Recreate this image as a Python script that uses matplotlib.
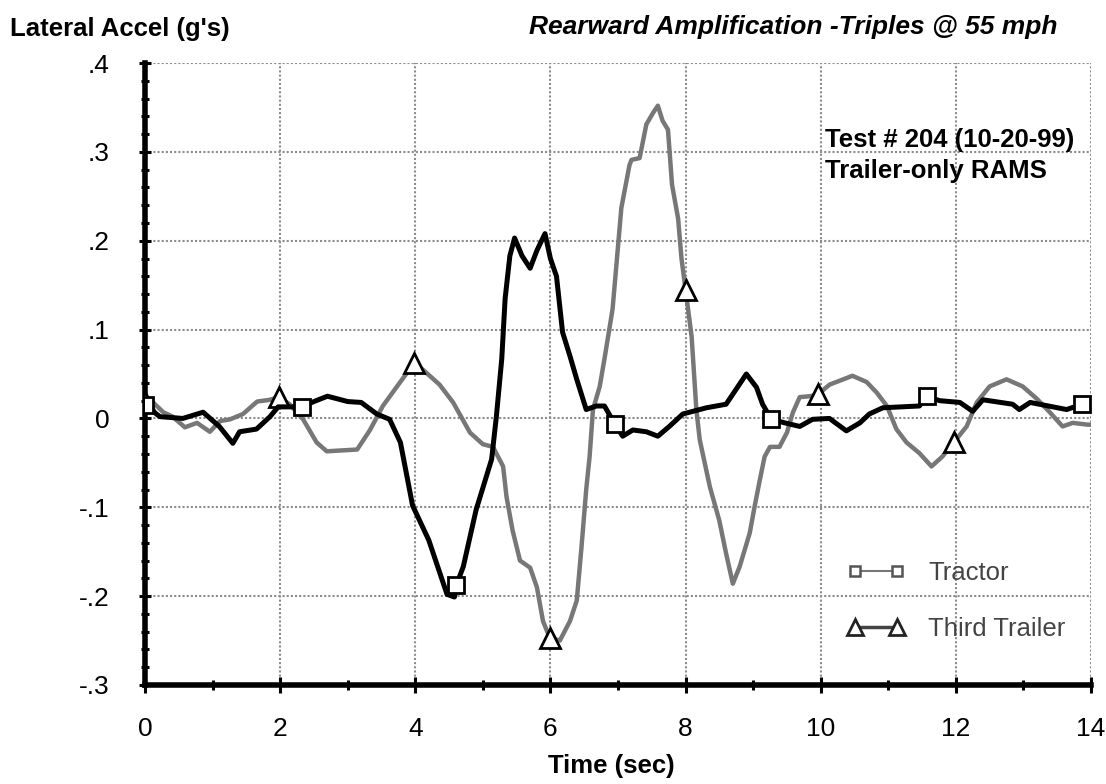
import numpy as np
import matplotlib
matplotlib.use("Agg")
import matplotlib.pyplot as plt
from matplotlib.lines import Line2D
from matplotlib.legend_handler import HandlerLine2D
from matplotlib.ticker import MultipleLocator, FixedLocator

plt.rcParams['font.family'] = ['Liberation Sans', 'DejaVu Sans']

# tractor lateral accel (g's) vs time (sec)
tractor_t = [0, 0.22, 0.56, 0.86, 1.1, 1.3, 1.4, 1.65, 1.85, 1.97, 2.32, 2.5, 2.7,
             3.0, 3.2, 3.43, 3.62, 3.78, 3.96, 4.2, 4.47, 4.58, 4.61, 4.71, 4.9,
             5.13, 5.2, 5.28, 5.33, 5.4, 5.47, 5.58, 5.7, 5.8, 5.92, 6.0, 6.09,
             6.18, 6.29, 6.39, 6.53, 6.68, 6.8, 6.95, 7.07, 7.22, 7.42, 7.59,
             7.76, 7.96, 8.31, 8.6, 8.75, 8.9, 9.05, 9.14, 9.27, 9.47, 9.69,
             9.88, 10.13, 10.38, 10.58, 10.72, 10.92, 11.46, 11.57, 11.76, 12.06,
             12.25, 12.4, 12.84, 12.94, 13.1, 13.64, 13.87, 14.0]
tractor_g = [0.015, 0.002, 0.0, 0.007, -0.009, -0.028, -0.015, -0.012, 0.002, 0.013,
             0.013, 0.019, 0.025, 0.019, 0.018, 0.005, -0.001, -0.027, -0.098,
             -0.137, -0.198, -0.201, -0.187, -0.167, -0.103, -0.046, 0.002, 0.067,
             0.135, 0.183, 0.203, 0.183, 0.169, 0.189, 0.208, 0.18, 0.16, 0.097,
             0.07, 0.044, 0.01, 0.014, 0.014, -0.006, -0.02, -0.013, -0.015, -0.02,
             -0.009, 0.005, 0.012, 0.016, 0.033, 0.05, 0.035, 0.016, -0.001,
             -0.005, -0.009, -0.001, 0.0, -0.014, -0.005, 0.005, 0.012, 0.014,
             0.025, 0.02, 0.018, 0.008, 0.021, 0.016, 0.01, 0.018, 0.01, 0.016,
             0.016]

# third trailer
trailer_t = [0, 0.12, 0.27, 0.41, 0.59, 0.77, 0.96, 1.11, 1.26, 1.45, 1.66, 1.85,
             1.98, 2.14, 2.34, 2.54, 2.69, 3.14, 3.33, 3.52, 3.73, 3.98, 4.11,
             4.36, 4.56, 4.81, 5.0, 5.15, 5.3, 5.35, 5.44, 5.55, 5.7, 5.8, 5.89,
             5.99, 6.14, 6.29, 6.39, 6.46, 6.53, 6.58, 6.63, 6.73, 6.8, 6.92,
             7.05, 7.17, 7.2, 7.32, 7.42, 7.52, 7.59, 7.66, 7.74, 7.8, 7.89, 7.94,
             8.0, 8.09, 8.16, 8.21, 8.36, 8.5, 8.6, 8.7, 8.8, 8.95, 9.02, 9.1,
             9.17, 9.25, 9.39, 9.5, 9.59, 9.69, 9.84, 9.96, 10.13, 10.47, 10.68,
             10.83, 10.98, 11.12, 11.27, 11.46, 11.64, 11.8, 11.98, 12.16, 12.31,
             12.5, 12.75, 12.99, 13.2, 13.39, 13.58, 13.73, 13.95, 14.0]
trailer_g = [0.019, 0.018, 0.007, 0.002, -0.01, -0.005, -0.015, -0.003, -0.001,
             0.005, 0.019, 0.021, 0.024, 0.016, -0.001, -0.027, -0.037, -0.035,
             -0.013, 0.014, 0.036, 0.062, 0.055, 0.038, 0.018, -0.016, -0.029,
             -0.032, -0.054, -0.088, -0.126, -0.16, -0.168, -0.19, -0.228, -0.247,
             -0.25, -0.228, -0.205, -0.145, -0.08, -0.043, 0.01, 0.036, 0.067,
             0.123, 0.237, 0.285, 0.291, 0.293, 0.331, 0.344, 0.352, 0.335, 0.325,
             0.263, 0.225, 0.18, 0.145, 0.092, 0.01, -0.024, -0.077, -0.115,
             -0.152, -0.186, -0.167, -0.129, -0.1, -0.069, -0.043, -0.032, -0.032,
             -0.016, 0.007, 0.024, 0.025, 0.027, 0.038, 0.048, 0.041, 0.029, 0.014,
             -0.012, -0.027, -0.039, -0.054, -0.043, -0.026, -0.009, 0.018, 0.036,
             0.044, 0.036, 0.022, 0.007, -0.009, -0.005, -0.007, -0.007]

tractor_marks = [0, 2.32, 4.61, 6.95, 9.27, 11.57, 13.87]
trailer_marks = [0, 1.98, 3.98, 5.99, 8.0, 9.96, 11.98]

y_ticks = [0.4, 0.3, 0.2, 0.1, 0, -0.1, -0.2, -0.3]
y_labels = ['.4', '.3', '.2', '.1', '0', '-.1', '-.2', '-.3']


def mark_idx(t, marks):
    t = np.asarray(t)
    return [int(np.argmin(np.abs(t - m))) for m in marks]


fig = plt.figure(figsize=(11.06, 7.84), dpi=100)
ax = fig.add_axes([0.1311, 0.1263, 0.8553, 0.7933])

ax.plot(trailer_t, trailer_g, color='#777777', lw=3.2, zorder=3,
        marker='^', markersize=14, markerfacecolor='white', markeredgecolor='black',
        markeredgewidth=2, markevery=mark_idx(trailer_t, trailer_marks))
ax.plot(tractor_t, tractor_g, color='black', lw=3.6, zorder=4,
        marker='s', markersize=12, markerfacecolor='white', markeredgecolor='black',
        markeredgewidth=2, markevery=mark_idx(tractor_t, tractor_marks))

ax.set_xlim(0, 14)
ax.set_ylim(-0.3, 0.4)
ax.xaxis.set_major_locator(MultipleLocator(2))
ax.xaxis.set_minor_locator(MultipleLocator(1))
ax.yaxis.set_major_locator(FixedLocator(y_ticks))
ax.set_yticklabels(y_labels)
ax.yaxis.set_minor_locator(MultipleLocator(0.02))

ax.grid(True, which='major', color='#8c8c8c', linestyle=(0, (1, 1)), lw=1.5, zorder=1)
for s in ['top', 'right']:
    ax.spines[s].set_visible(False)
for s in ['left', 'bottom']:
    ax.spines[s].set_linewidth(4)
ax.tick_params(axis='x', which='major', direction='inout', length=12, width=2.2,
               labelsize=19, pad=17)
ax.tick_params(axis='x', which='minor', direction='inout', length=7, width=2.2)
ax.tick_params(axis='y', which='major', direction='inout', length=9, width=2.2,
               labelsize=19, pad=21)
ax.tick_params(axis='y', which='minor', direction='inout', length=6, width=2.2)

fig.text(0.009, 0.963, "Lateral Accel (g's)", fontsize=18.5, fontweight='bold',
         va='center', ha='left')
fig.text(0.9557, 0.966, "Rearward Amplification -Triples @ 55 mph", fontsize=19,
         fontweight='bold', style='italic', va='center', ha='right')
fig.text(0.5525, 0.023, 'Time (sec)', fontsize=18.5, fontweight='bold',
         va='center', ha='center')
ax.text(10.07, 0.3137, 'Test # 204 (10-20-99)', fontsize=18.5, fontweight='bold',
        va='center', ha='left')
ax.text(10.07, 0.2786, 'Trailer-only RAMS', fontsize=18.5, fontweight='bold',
        va='center', ha='left')

handles = [
    Line2D([], [], color='#777777', lw=1.5, marker='s', markersize=7,
           markerfacecolor='white', markeredgecolor='#555555', markeredgewidth=1.8),
    Line2D([], [], color='#444444', lw=2.5, marker='^', markersize=12,
           markerfacecolor='white', markeredgecolor='#222222', markeredgewidth=2),
]
leg = ax.legend(handles, ['Tractor', 'Third Trailer'], frameon=False,
                loc='center left', bbox_to_anchor=(0.7294, 0.135), fontsize=18.5,
                handlelength=3.2, labelspacing=1.25, handletextpad=0.43,
                borderpad=0, borderaxespad=0,
                handler_map={Line2D: HandlerLine2D(marker_pad=0.78, numpoints=2)})
for txt in leg.get_texts():
    txt.set_color('#444444')

fig.savefig('out.png', dpi=100)
